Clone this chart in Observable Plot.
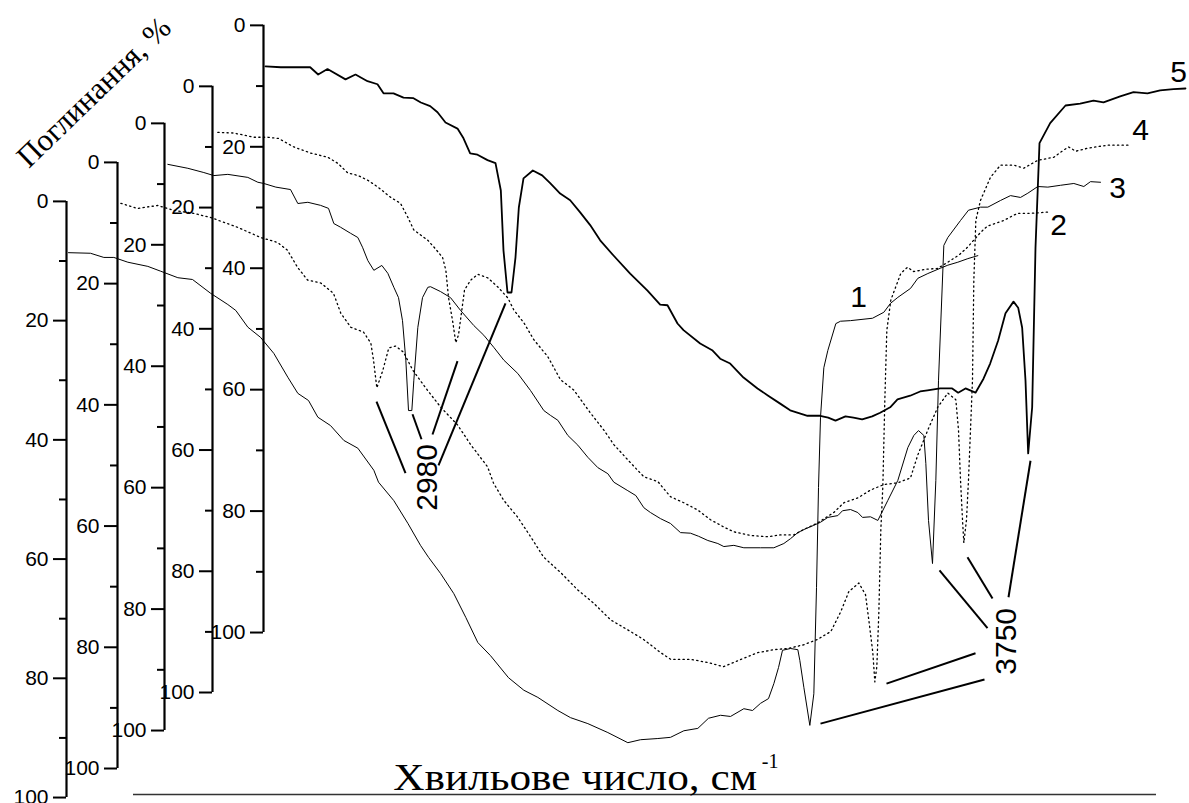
<!DOCTYPE html>
<html><head><meta charset="utf-8">
<script src="https://cdn.jsdelivr.net/npm/d3@7"></script>
<script src="https://cdn.jsdelivr.net/npm/@observablehq/plot@0.6"></script>
<style>html,body{margin:0;padding:0;background:#fff;} #chart svg{display:block;}</style>
</head><body><div id="chart"></div>
<script>
// ---- Spectra: [wavenumber cm-1, absorbance %] (each read against its own stacked axis) ----
const spectrum1 = [[2613,8.6],[2646,8.7],[2666,9.4],[2681,9.4],[2702,10.2],[2732,10.9],[2751,11.7],[2777,12.8],[2799,13.1],[2826,15.4],[2852,17.3],[2864,18.3],[2882,21.1],[2901,22.8],[2921,25.5],[2942,29.5],[2957,32.2],[2973,33.4],[2987,36.2],[3006,37.6],[3026,40.1],[3047,41.4],[3071,45.1],[3078,47.1],[3101,50.2],[3122,54.0],[3141,57.7],[3153,59.7],[3171,62.4],[3191,65.8],[3209,69.8],[3227,74.0],[3246,76.2],[3273,79.9],[3296,82.0],[3317,83.2],[3347,85.4],[3366,86.6],[3392,87.6],[3422,89.1],[3452,90.8],[3471,90.3],[3497,90.1],[3516,89.9],[3536,88.8],[3557,88.4],[3573,86.7],[3591,86.2],[3606,86.4],[3626,85.1],[3639,85.4],[3651,84.2],[3663,83.4],[3671,80.9],[3678,78.2],[3684,75.3],[3696,75.0],[3707,75.2],[3710,77.0],[3716,81.5],[3725,87.9],[3731,82.6],[3735,64.8],[3738,48.0],[3741,36.2],[3746,27.9],[3752,25.0],[3764,20.5],[3771,20.1],[3786,20.0],[3819,19.6],[3836,18.6],[3846,17.1],[3857,16.1],[3876,14.6],[3887,12.9],[3902,12.1],[3921,11.2],[3932,10.7],[3947,10.2],[3962,9.6],[3977,9.1]];

const spectrum2 = [[2615,6.75],[2640,7.6],[2670,7.1],[2694,7.9],[2724,8.4],[2750,9.1],[2790,10.7],[2825,12.4],[2850,13.2],[2865,14.5],[2880,17.3],[2895,19.4],[2915,19.9],[2934,21.6],[2945,24.9],[2960,27.2],[2979,28.0],[2990,29.8],[2994,32.6],[2999,37.2],[3008,34.3],[3017,30.6],[3027,30.3],[3039,31.3],[3053,34.3],[3075,37.6],[3095,40.4],[3120,43.3],[3140,46.6],[3165,50.2],[3174,52.9],[3189,55.7],[3210,58.5],[3230,61.8],[3249,65.1],[3275,67.7],[3300,70.5],[3324,72.7],[3350,75.5],[3375,77.1],[3399,78.7],[3425,80.9],[3440,82.0],[3470,82.0],[3495,82.5],[3519,83.2],[3545,82.0],[3570,80.9],[3594,80.4],[3615,80.2],[3639,79.6],[3660,78.7],[3680,77.4],[3695,74.1],[3707,70.8],[3722,69.4],[3732,71.3],[3737,75.5],[3743,80.9],[3746,85.7],[3749,83.2],[3752,74.3],[3755,60.6],[3758,53.5],[3761,39.2],[3764,27.7],[3770,22.7],[3785,18.3],[3795,17.3],[3804,18.0],[3825,17.6],[3840,17.5],[3855,16.5],[3872,15.3],[3885,14.0],[3905,11.5],[3915,10.5],[3939,9.6],[3960,8.4],[3980,8.4],[4005,8.2]];

const spectrum3 = [[2615,6.75],[2645,7.4],[2669,8.1],[2684,8.6],[2705,8.4],[2735,8.9],[2750,9.7],[2759,9.9],[2777,10.5],[2799,10.9],[2810,13.2],[2825,13.0],[2844,13.5],[2856,14.0],[2864,16.5],[2874,17.1],[2889,18.1],[2900,18.8],[2907,20.4],[2915,22.6],[2924,24.2],[2936,23.4],[2945,24.7],[2954,27.0],[2961,28.7],[2967,32.5],[2972,39.0],[2976,47.3],[2981,47.3],[2984,42.3],[2990,33.6],[2997,28.7],[3005,27.0],[3009,26.9],[3024,27.7],[3039,28.7],[3054,30.8],[3074,33.3],[3089,34.9],[3104,36.9],[3119,39.0],[3140,41.2],[3159,44.0],[3179,47.3],[3189,48.1],[3200,48.9],[3215,51.4],[3230,53.0],[3245,55.0],[3260,56.7],[3275,57.7],[3284,59.1],[3305,60.5],[3317,61.3],[3329,63.3],[3339,64.1],[3354,65.1],[3369,65.9],[3384,67.4],[3399,67.5],[3411,68.0],[3425,68.7],[3440,69.2],[3449,69.7],[3464,69.5],[3479,69.9],[3504,69.9],[3524,69.9],[3539,69.2],[3549,68.4],[3560,67.4],[3569,66.9],[3584,66.2],[3594,65.7],[3605,64.9],[3620,64.6],[3627,63.8],[3639,63.6],[3650,64.1],[3657,64.9],[3669,64.8],[3680,65.4],[3695,62.1],[3710,58.8],[3725,53.4],[3734,51.4],[3741,50.6],[3749,51.4],[3752,56.0],[3756,65.4],[3762,72.5],[3767,58.8],[3771,42.3],[3779,20.1],[3785,18.8],[3804,16.0],[3816,14.3],[3834,13.8],[3845,13.8],[3864,12.7],[3879,11.9],[3894,12.2],[3905,11.5],[3920,10.4],[3935,10.5],[3954,10.2],[3974,9.9],[3989,10.4],[3999,9.6],[4014,9.7]];

const spectrum4 = [[2618,7.6],[2642,7.7],[2672,8.4],[2693,8.4],[2709,8.6],[2732,10.0],[2757,11.0],[2783,11.7],[2798,12.7],[2813,14.3],[2828,14.7],[2843,15.5],[2858,16.6],[2877,18.3],[2892,19.3],[2903,21.6],[2912,23.7],[2933,25.4],[2942,26.5],[2955,28.2],[2960,30.3],[2964,34.8],[2970,38.6],[2975,42.3],[2979,41.0],[2984,36.9],[2988,33.6],[2997,32.0],[3008,31.0],[3023,31.6],[3038,33.1],[3053,34.9],[3062,36.9],[3077,39.0],[3092,41.8],[3113,44.6],[3132,48.4],[3152,50.1],[3177,53.9],[3197,56.7],[3212,59.1],[3237,62.1],[3257,64.4],[3278,65.2],[3297,67.7],[3317,68.7],[3338,69.9],[3357,71.5],[3377,72.7],[3392,73.5],[3417,74.1],[3443,74.3],[3462,74.0],[3482,74.0],[3497,73.1],[3518,72.0],[3542,70.3],[3557,68.7],[3578,67.9],[3597,66.6],[3617,65.7],[3638,65.4],[3657,64.6],[3668,60.8],[3683,56.7],[3698,52.9],[3713,50.6],[3725,51.7],[3729,56.7],[3732,64.9],[3735,71.5],[3737,75.3],[3741,71.5],[3744,64.9],[3750,48.4],[3752,32.0],[3755,22.1],[3762,18.8],[3777,15.0],[3792,13.0],[3812,13.0],[3827,13.5],[3848,12.2],[3872,11.7],[3887,10.5],[3894,10.0],[3905,10.7],[3923,10.2],[3953,9.7],[3987,9.7]];

const spectrum5 = [[2613,6.75],[2636,6.9],[2680,6.9],[2692,8.1],[2706,7.2],[2733,8.9],[2748,8.1],[2766,9.2],[2781,9.7],[2790,11.2],[2805,11.2],[2820,11.9],[2835,12.0],[2846,12.7],[2860,13.3],[2871,14.3],[2883,16.0],[2901,17.0],[2910,18.6],[2920,21.1],[2931,21.3],[2946,22.2],[2958,22.7],[2966,27.2],[2970,37.1],[2976,44.0],[2982,44.0],[2988,38.2],[2993,30.0],[3000,25.2],[3014,23.9],[3028,24.7],[3040,26.0],[3055,27.7],[3070,28.8],[3085,30.8],[3100,32.9],[3115,35.4],[3135,37.9],[3160,40.9],[3186,43.7],[3205,46.0],[3216,46.1],[3231,49.1],[3240,50.2],[3265,52.4],[3283,53.5],[3295,54.9],[3310,55.7],[3330,58.0],[3351,59.8],[3367,61.0],[3385,62.3],[3400,63.4],[3426,64.3],[3445,64.3],[3457,64.6],[3468,65.1],[3483,64.4],[3495,64.6],[3508,64.9],[3523,64.4],[3535,63.8],[3550,62.9],[3561,61.6],[3580,61.0],[3595,60.3],[3606,60.1],[3625,59.8],[3643,59.8],[3652,60.5],[3663,59.8],[3678,60.5],[3690,58.2],[3700,55.7],[3712,51.9],[3723,47.4],[3735,45.5],[3742,46.5],[3748,49.8],[3753,58.5],[3757,70.5],[3763,62.9],[3768,36.6],[3774,19.4],[3790,16.1],[3813,13.2],[3835,12.9],[3855,12.4],[3870,12.7],[3895,11.7],[3915,11.0],[3936,11.2],[3955,10.7],[3975,10.5],[3993,10.4]];

// ---- Stacked axes: wavenumber shift of each spectrum, and where its 0 % / 100 % fall on the common scale ----
const axisNames = ["1", "2", "3", "4", "5"];
const axisShift = [0, 76.5, 147, 219, 295.5];
const axisZero = [0, -6.54, -13.09, -19.30, -29.53];
const axisHundred = [100, 95.13, 88.76, 82.38, 72.32];
const axisStartWn = 2610;
const tickValues = [0, 10, 20, 30, 40, 50, 60, 70, 80, 90, 100];
const tickLabels = ["0", "20", "40", "60", "80", "100"];

// ---- Curve numbers and peak annotations (common frame: wavenumber, % of axis 1) ----
const curveLabelText = ["1", "2", "3", "4", "5"];
const curveLabelWn = [3798, 4098, 4186.5, 4221, 4278];
const curveLabelAbs = [16.1, 4.0, -2.2, -11.9, -21.6];
const peakLabelText = ["2980", "3750"];
const peakLabelWn = [3151.5, 4020];
const peakLabelAbs = [46.3, 73.8];
const leaders = [
  [3075, 33.6, 3118.5, 45.6], [3129, 35.7, 3142.5, 39.9], [3196.5, 26.8, 3159, 39.1], [3268.5, 17.1, 3168, 44.3],
  [4056, 43.5, 4023, 66.4], [3961.5, 59.7, 3999, 66.6], [3919.5, 61.9, 3991.5, 71.6], [3840, 80.9, 3973.5, 75.8], [3741, 87.6, 3987, 80.2]
];
const baseLine = [2710.5, 4245, 99.5];
const yTitle = {text: "Поглинання, %", wn: 2651, abs: -18.3};
const xTitle = {text: "Хвильове число, см", sup: "-1", wn: 3646, abs: 96.7, supWn: 3653, supAbs: 94.0};

// ---- layout ----
const W = 1189, H = 803;
const xDomain = [2511, 4294.5];
const yDomain = [-33.7, 101];
const unitsPerPx = (xDomain[1] - xDomain[0]) / W;

const spectra = [spectrum1, spectrum2, spectrum3, spectrum4, spectrum5];
const styles = [
  {stroke: "#000", strokeWidth: 1},
  {stroke: "#000", strokeWidth: 1.3, strokeDasharray: "1.3,3.3"},
  {stroke: "#000", strokeWidth: 1},
  {stroke: "#000", strokeWidth: 1.3, strokeDasharray: "1.3,3.3"},
  {stroke: "#000", strokeWidth: 1.8}
];
const toU = (i, v) => axisZero[i] + v * (axisHundred[i] - axisZero[i]) / 100;

const lineMarks = spectra.map((s, i) =>
  Plot.line(s.map(([wn, v]) => ({X: wn + axisShift[i], U: toU(i, v)})), {x: "X", y: "U", ...styles[i], strokeLinejoin: "round"})
);

const axes = axisNames.map((n, i) => ({ax: axisStartWn + axisShift[i], u0: axisZero[i], u100: axisHundred[i]}));
const ticks = axes.flatMap((a, i) => tickValues.map(t => ({ax: a.ax, u: toU(i, t), major: t % 20 === 0, t})));
const tickText = axes.flatMap((a, i) => tickLabels.map(t => ({ax: a.ax, u: toU(i, +t), t})));

const font = "Liberation Sans, Arial, sans-serif";
const serif = "Liberation Serif, Times New Roman, serif";

const chart = Plot.plot({
  width: W, height: H,
  marginTop: 0, marginBottom: 0, marginLeft: 0, marginRight: 0,
  x: {domain: xDomain, range: [0, W], axis: null},
  y: {domain: yDomain, range: [0, H], axis: null},
  style: {background: "#fff"},
  marks: [
    Plot.ruleY([baseLine], {y: d => d[2], x1: d => d[0], x2: d => d[1], stroke: "#333", strokeWidth: 1.5}),
    ...lineMarks,
    Plot.ruleX(axes, {x: "ax", y1: "u0", y2: "u100", stroke: "#000", strokeWidth: 2.2}),
    Plot.ruleY(ticks, {y: "u", x1: d => d.ax - (d.major ? 13 : 7) * unitsPerPx, x2: "ax", stroke: "#000", strokeWidth: 2}),
    Plot.text(tickText, {x: "ax", y: "u", text: "t", textAnchor: "end", dx: -18, fontSize: 21, fontFamily: font, fill: "#000"}),
    Plot.link(leaders, {x1: d => d[0], y1: d => d[1], x2: d => d[2], y2: d => d[3], stroke: "#000", strokeWidth: 2}),
    Plot.text(curveLabelText, {x: (d, i) => curveLabelWn[i], y: (d, i) => curveLabelAbs[i], text: d => d, fontSize: 30, fontFamily: font, fill: "#000"}),
    Plot.text(peakLabelText, {x: (d, i) => peakLabelWn[i], y: (d, i) => peakLabelAbs[i], text: d => d, rotate: -90, fontSize: 30, fontFamily: font, fill: "#000"}),
    Plot.text([yTitle], {x: "wn", y: "abs", text: "text", rotate: -44, fontSize: 31, fontFamily: serif, fill: "#000"}),
    Plot.text([xTitle], {x: "wn", y: "abs", text: "text", textAnchor: "end", fontSize: 38, fontFamily: serif, fill: "#000"}),
    Plot.text([xTitle], {x: "supWn", y: "supAbs", text: "sup", textAnchor: "start", fontSize: 20, fontFamily: serif, fill: "#000"})
  ]
});
// stretch the x title to the reference's width
d3.select(chart).selectAll("text")
  .filter(function() { return this.textContent === xTitle.text; })
  .attr("textLength", 364).attr("lengthAdjust", "spacingAndGlyphs");
document.getElementById("chart").appendChild(chart);
</script></body></html>
